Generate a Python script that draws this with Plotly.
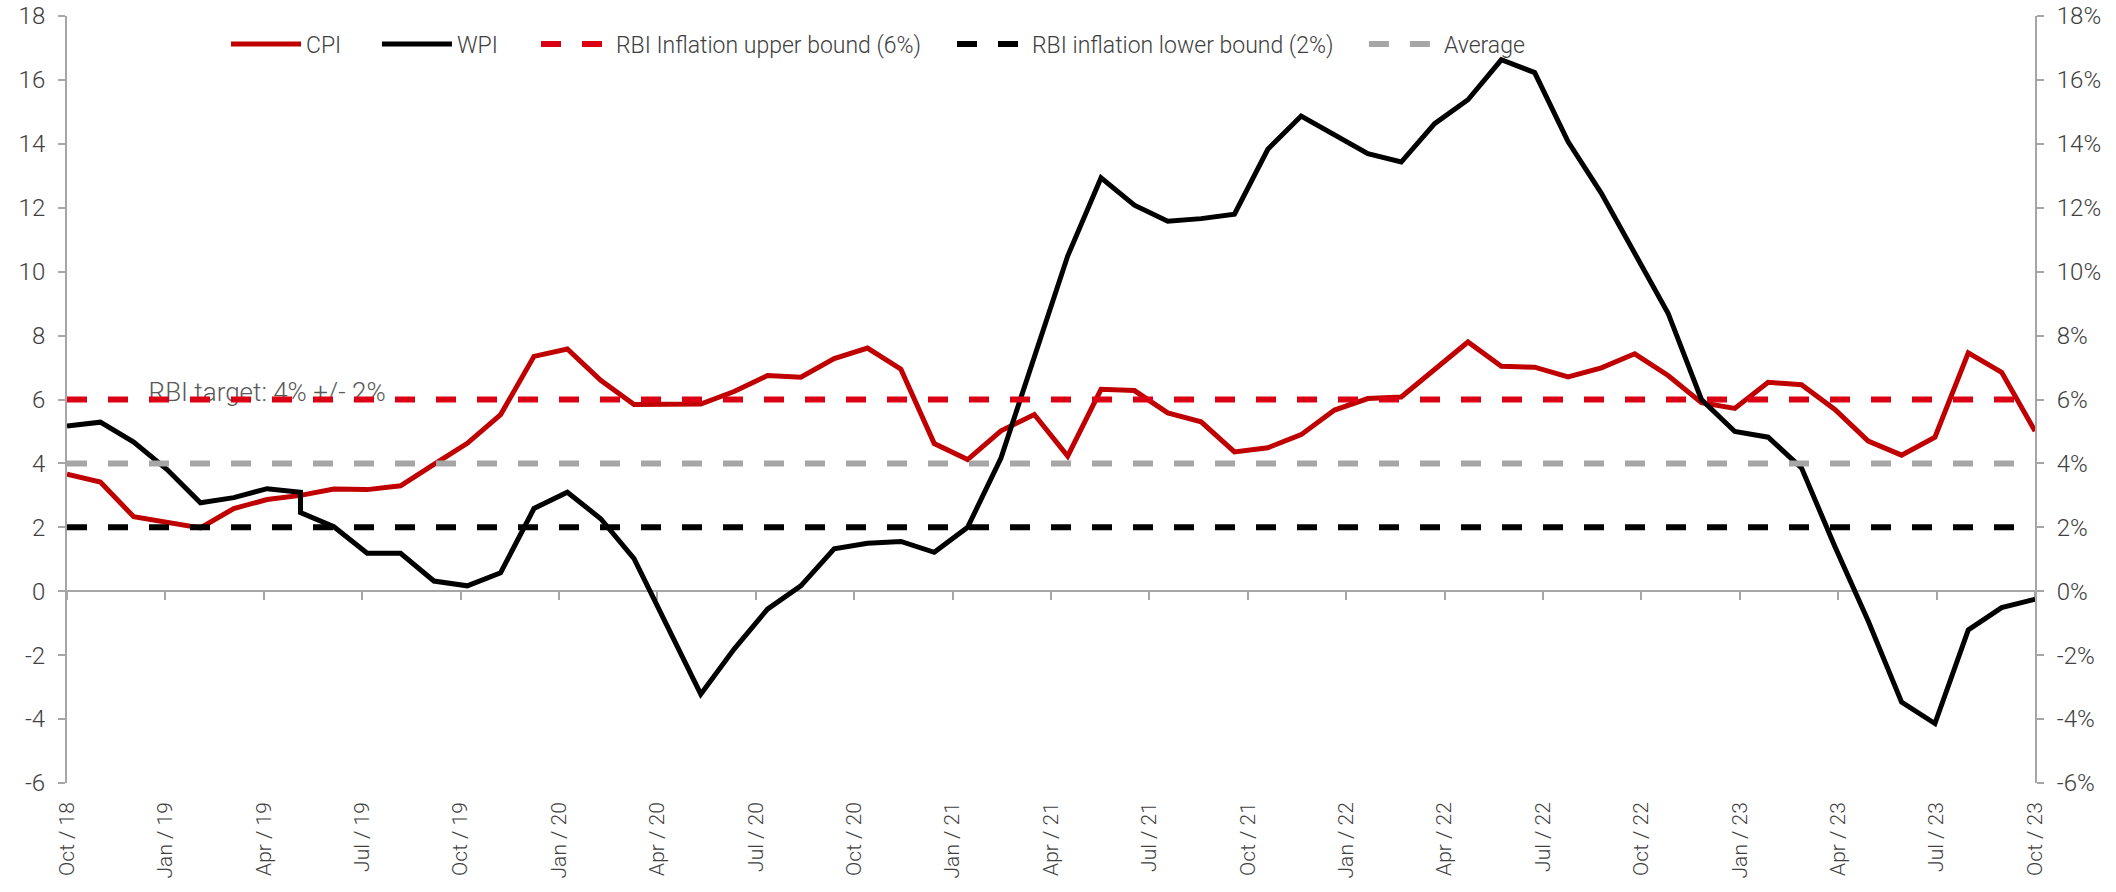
import pandas as pd
import plotly.graph_objects as go

# ---------------- data ----------------
months = pd.date_range("2018-10-01", periods=60, freq="MS").strftime("%b %Y").tolist()

cpi = [3.66, 3.42, 2.33, 2.15, 1.98, 2.59, 2.87, 3.00, 3.20, 3.18,
       3.30, 3.97, 4.63, 5.53, 7.35, 7.58, 6.60, 5.84, 5.84, 5.86,
       6.25, 6.75, 6.70, 7.28, 7.61, 6.95, 4.62, 4.12, 5.02, 5.53,
       4.23, 6.32, 6.28, 5.58, 5.30, 4.36, 4.49, 4.90, 5.67, 6.03,
       6.08, 6.95, 7.80, 7.04, 7.01, 6.71, 6.99, 7.43, 6.75, 5.90,
       5.72, 6.54, 6.46, 5.69, 4.70, 4.26, 4.82, 7.46, 6.85, 5.01]

# WPI: May 2019 shows two readings (vertical step), Apr 2020 not published
wpi_months = months[0:8] + [months[7]] + months[8:18] + months[19:60]
wpi = [5.17, 5.29, 4.67, 3.81, 2.77, 2.93, 3.21,
       3.10, 2.46,
       2.02, 1.19, 1.19, 0.32, 0.17, 0.58, 2.59, 3.10, 2.27, 1.02,
       -3.22, -1.81, -0.56, 0.17, 1.33, 1.50, 1.56, 1.22, 2.00, 4.17, 7.39, 10.49,
       12.94, 12.08, 11.58, 11.66, 11.80, 13.83, 14.87, 14.28, 13.69, 13.43,
       14.63, 15.38, 16.63, 16.23, 14.07, 12.45, 10.55, 8.70, 6.00, 5.00,
       4.82, 3.86, 1.40, -0.93, -3.47, -4.14, -1.21, -0.51, -0.25]

upper_bound = 6
lower_bound = 2
average = 4

tick_labels = ["Oct / 18", "Jan / 19", "Apr / 19", "Jul / 19", "Oct / 19", "Jan / 20",
               "Apr / 20", "Jul / 20", "Oct / 20", "Jan / 21", "Apr / 21", "Jul / 21",
               "Oct / 21", "Jan / 22", "Apr / 22", "Jul / 22", "Oct / 22", "Jan / 23",
               "Apr / 23", "Jul / 23", "Oct / 23"]

y_ticks = [-6, -4, -2, 0, 2, 4, 6, 8, 10, 12, 14, 16, 18]
y_left_labels = ["-6", "-4", "-2", "0", "2", "4", "6", "8", "10", "12", "14", "16", "18"]
y_right_labels = ["-6%", "-4%", "-2%", "0%", "2%", "4%", "6%", "8%", "10%", "12%", "14%", "16%", "18%"]

target_label = "RBI target: 4% +/- 2%"
target_label_month = "Apr 2019"
target_label_y = 6.15

# ---------------- style ----------------
FONT = "Roboto, 'Open Sans', Arial, sans-serif"
TXT = "#404040"
AXIS = "#A6A6A6"
RED_DARK = "#C00000"
RED = "#DC0014"
GREY = "#A6A6A6"
DASH = "20px,21px"

fig = go.Figure()

# helper traces so that label axis / tick axis / right axis are drawn
fig.add_trace(go.Scatter(x=tick_labels, y=[None] * len(tick_labels), xaxis="x", yaxis="y",
                         showlegend=False, hoverinfo="skip", mode="lines"))
fig.add_trace(go.Scatter(x=tick_labels, y=[None] * len(tick_labels), xaxis="x3", yaxis="y",
                         showlegend=False, hoverinfo="skip", mode="lines"))
fig.add_trace(go.Scatter(x=[months[0]], y=[None], xaxis="x2", yaxis="y2",
                         showlegend=False, hoverinfo="skip", mode="lines"))

# annotation text drawn below the dashed lines
fig.add_trace(go.Scatter(x=[target_label_month], y=[target_label_y], xaxis="x2", yaxis="y",
                         mode="text", text=[target_label], textposition="middle center",
                         textfont=dict(family=FONT, size=26, color="#595959", weight=300),
                         showlegend=False, hoverinfo="skip"))

fig.add_trace(go.Scatter(x=months, y=cpi, name="CPI", xaxis="x2", yaxis="y", mode="lines",
                         line=dict(color=RED_DARK, width=5), legend="legend"))
fig.add_trace(go.Scatter(x=wpi_months, y=wpi, name="WPI", xaxis="x2", yaxis="y", mode="lines",
                         line=dict(color="#000000", width=5), legend="legend2"))
fig.add_trace(go.Scatter(x=[months[0], months[-1]], y=[upper_bound, upper_bound],
                         name="RBI Inflation upper bound (6%)", xaxis="x2", yaxis="y", mode="lines",
                         line=dict(color=RED, width=6, dash=DASH), legend="legend3"))
fig.add_trace(go.Scatter(x=[months[0], months[-1]], y=[lower_bound, lower_bound],
                         name="RBI inflation lower bound (2%)", xaxis="x2", yaxis="y", mode="lines",
                         line=dict(color="#000000", width=6, dash=DASH), legend="legend4"))
fig.add_trace(go.Scatter(x=[months[0], months[-1]], y=[average, average],
                         name="Average", xaxis="x2", yaxis="y", mode="lines",
                         line=dict(color=GREY, width=6, dash=DASH), legend="legend5"))

LEG_Y = 0.9635
def leg(x):
    return dict(orientation="h", x=x, xanchor="left", y=LEG_Y, yanchor="middle",
                itemwidth=70, font=dict(size=23, color=TXT, family=FONT, weight=300),
                bgcolor="rgba(0,0,0,0)")

fig.update_layout(
    width=2116, height=892, autosize=False,
    margin=dict(l=67, r=81, t=16, b=109, pad=0, autoexpand=False),
    paper_bgcolor="white", plot_bgcolor="white",
    font=dict(family=FONT, color=TXT, size=22, weight=300),
    showlegend=True,
    legend=leg(0.0808), legend2=leg(0.1575), legend3=leg(0.2383),
    legend4=leg(0.4497), legend5=leg(0.659),
    xaxis=dict(type="category", categoryorder="array", categoryarray=tick_labels,
               range=[0, len(tick_labels) - 1], showline=False, ticks="", showgrid=False,
               zeroline=False, tickangle=-90, ticklabelstandoff=14, automargin=False,
               tickfont=dict(size=21, color=TXT, family=FONT, weight=300)),
    xaxis2=dict(type="category", categoryorder="array", categoryarray=months,
                overlaying="x", anchor="y", range=[0, len(months) - 1], automargin=False,
                showline=False, ticks="", showticklabels=False, showgrid=False, zeroline=False),
    xaxis3=dict(type="category", categoryorder="array", categoryarray=tick_labels,
                overlaying="x", anchor="free", position=0.25, automargin=False,
                range=[0, len(tick_labels) - 1], showline=True, linecolor=AXIS, linewidth=2,
                ticks="outside", ticklen=8, tickwidth=2, tickcolor=AXIS,
                showticklabels=False, showgrid=False, zeroline=False, layer="below traces"),
    yaxis=dict(range=[-6, 18], tickmode="array", tickvals=y_ticks, ticktext=y_left_labels,
               showline=True, linecolor=AXIS, linewidth=2,
               ticks="outside", ticklen=7, tickwidth=2, tickcolor=AXIS, showgrid=False,
               zeroline=False, ticklabelstandoff=8, automargin=False,
               tickfont=dict(size=24, color=TXT, family=FONT, weight=300)),
    yaxis2=dict(range=[-6, 18], tickmode="array", tickvals=y_ticks, ticktext=y_right_labels,
                overlaying="y", side="right", anchor="x2",
                showline=True, linecolor=AXIS, linewidth=2,
                ticks="outside", ticklen=7, tickwidth=2, tickcolor=AXIS, showgrid=False,
                zeroline=False, ticklabelstandoff=8, automargin=False,
                tickfont=dict(size=24, color=TXT, family=FONT, weight=300)),
)

fig.write_html("out.html", config={"displayModeBar": False})

with open("out.html", "r", encoding="utf-8") as f:
    html = f.read()
html = html.replace("<body>", '<body style="margin:0;padding:0;">', 1)
with open("out.html", "w", encoding="utf-8") as f:
    f.write(html)
